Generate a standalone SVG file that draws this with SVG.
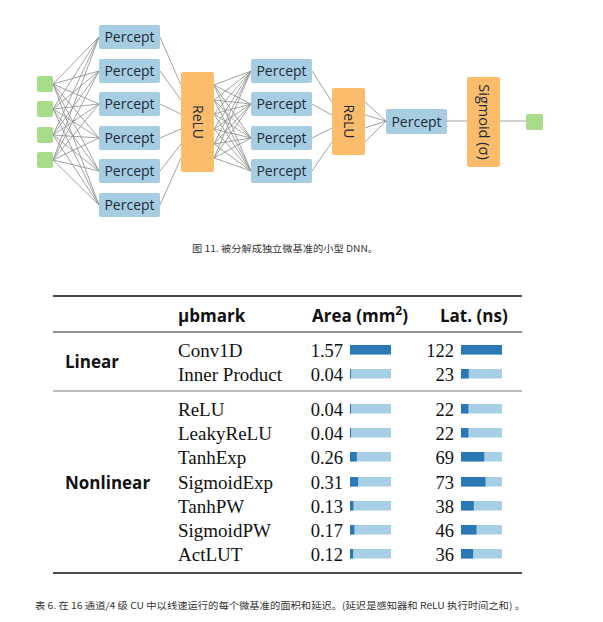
<svg xmlns="http://www.w3.org/2000/svg" width="603" height="622" viewBox="0 0 603 622">
<style>
.in{fill:#a6dc8a}
.pc rect{fill:#a7cde2}
.pc text,.act text{font-family:"Open Sans","Noto Sans",sans-serif;font-size:14px;fill:#1b2a38;text-anchor:middle}
.act rect{fill:#fbbd6c}
.conn line{stroke:#8c8c8c;stroke-width:0.8}
.cap{font-family:"Noto Sans CJK SC","Noto Sans",sans-serif;font-size:9.5px;fill:#333}
.ser{font-family:"Liberation Serif","DejaVu Serif",serif;font-size:19px;fill:#111}
.num{font-family:"Liberation Serif","DejaVu Serif",serif;font-size:18.5px;fill:#111;text-anchor:end}
.hd{font-family:"Open Sans","Noto Sans",sans-serif;font-size:17px;font-weight:bold;fill:#111}
.lt{fill:#a6cfe6}
.dk{fill:#2a79b4}
</style>

<g id="connectors" class="conn">
<g id="c-in">
<line x1="53" y1="84" x2="99" y2="37"/><line x1="53" y1="84" x2="99" y2="71"/><line x1="53" y1="84" x2="99" y2="104"/><line x1="53" y1="84" x2="99" y2="138"/><line x1="53" y1="84" x2="99" y2="171"/><line x1="53" y1="84" x2="99" y2="205"/>
<line x1="53" y1="109" x2="99" y2="37"/><line x1="53" y1="109" x2="99" y2="71"/><line x1="53" y1="109" x2="99" y2="104"/><line x1="53" y1="109" x2="99" y2="138"/><line x1="53" y1="109" x2="99" y2="171"/><line x1="53" y1="109" x2="99" y2="205"/>
<line x1="53" y1="135" x2="99" y2="37"/><line x1="53" y1="135" x2="99" y2="71"/><line x1="53" y1="135" x2="99" y2="104"/><line x1="53" y1="135" x2="99" y2="138"/><line x1="53" y1="135" x2="99" y2="171"/><line x1="53" y1="135" x2="99" y2="205"/>
<line x1="53" y1="160" x2="99" y2="37"/><line x1="53" y1="160" x2="99" y2="71"/><line x1="53" y1="160" x2="99" y2="104"/><line x1="53" y1="160" x2="99" y2="138"/><line x1="53" y1="160" x2="99" y2="171"/><line x1="53" y1="160" x2="99" y2="205"/>
</g>
<line x1="160" y1="37" x2="181" y2="85"/><line x1="160" y1="71" x2="181" y2="100"/><line x1="160" y1="104" x2="181" y2="114"/><line x1="160" y1="138" x2="181" y2="129"/><line x1="160" y1="171" x2="181" y2="144"/><line x1="160" y1="205" x2="181" y2="158"/>
<line x1="214" y1="85" x2="251" y2="71"/><line x1="214" y1="85" x2="251" y2="104"/><line x1="214" y1="85" x2="251" y2="138"/><line x1="214" y1="85" x2="251" y2="171"/>
<line x1="214" y1="100" x2="251" y2="71"/><line x1="214" y1="100" x2="251" y2="104"/><line x1="214" y1="100" x2="251" y2="138"/><line x1="214" y1="100" x2="251" y2="171"/>
<line x1="214" y1="114" x2="251" y2="71"/><line x1="214" y1="114" x2="251" y2="104"/><line x1="214" y1="114" x2="251" y2="138"/><line x1="214" y1="114" x2="251" y2="171"/>
<line x1="214" y1="129" x2="251" y2="71"/><line x1="214" y1="129" x2="251" y2="104"/><line x1="214" y1="129" x2="251" y2="138"/><line x1="214" y1="129" x2="251" y2="171"/>
<line x1="214" y1="144" x2="251" y2="71"/><line x1="214" y1="144" x2="251" y2="104"/><line x1="214" y1="144" x2="251" y2="138"/><line x1="214" y1="144" x2="251" y2="171"/>
<line x1="214" y1="158" x2="251" y2="71"/><line x1="214" y1="158" x2="251" y2="104"/><line x1="214" y1="158" x2="251" y2="138"/><line x1="214" y1="158" x2="251" y2="171"/>
<line x1="312" y1="71" x2="332" y2="102"/><line x1="312" y1="104" x2="332" y2="115"/><line x1="312" y1="138" x2="332" y2="128"/><line x1="312" y1="171" x2="332" y2="142"/>
<line x1="365" y1="102" x2="386" y2="121"/><line x1="365" y1="115" x2="386" y2="121"/><line x1="365" y1="128" x2="386" y2="121"/><line x1="365" y1="142" x2="386" y2="121"/>
<line x1="447" y1="121" x2="467" y2="121"/>
<line x1="500" y1="121" x2="526" y2="121"/>
</g>

<g id="in1"><rect class="in" x="37" y="76" width="16" height="16" rx="2"/></g>
<g id="in2"><rect class="in" x="37" y="101" width="16" height="16" rx="2"/></g>
<g id="in3"><rect class="in" x="37" y="127" width="16" height="16" rx="2"/></g>
<g id="in4"><rect class="in" x="37" y="152" width="16" height="16" rx="2"/></g>

<g id="p1a" class="pc"><rect x="99" y="25" width="61" height="24" rx="2"/><text x="129.5" y="42">Percept</text></g>
<g id="p1b" class="pc"><rect x="99" y="59" width="61" height="24" rx="2"/><text x="129.5" y="76">Percept</text></g>
<g id="p1c" class="pc"><rect x="99" y="92" width="61" height="24" rx="2"/><text x="129.5" y="109">Percept</text></g>
<g id="p1d" class="pc"><rect x="99" y="126" width="61" height="24" rx="2"/><text x="129.5" y="143">Percept</text></g>
<g id="p1e" class="pc"><rect x="99" y="159" width="61" height="24" rx="2"/><text x="129.5" y="176">Percept</text></g>
<g id="p1f" class="pc"><rect x="99" y="193" width="61" height="24" rx="2"/><text x="129.5" y="210">Percept</text></g>

<g id="relu1" class="act"><rect x="181" y="72" width="33" height="100" rx="2"/><text transform="translate(192.5,122) rotate(90)">ReLU</text></g>

<g id="p2a" class="pc"><rect x="251" y="59" width="61" height="24" rx="2"/><text x="281.5" y="76">Percept</text></g>
<g id="p2b" class="pc"><rect x="251" y="92" width="61" height="24" rx="2"/><text x="281.5" y="109">Percept</text></g>
<g id="p2c" class="pc"><rect x="251" y="126" width="61" height="24" rx="2"/><text x="281.5" y="143">Percept</text></g>
<g id="p2d" class="pc"><rect x="251" y="159" width="61" height="24" rx="2"/><text x="281.5" y="176">Percept</text></g>

<g id="relu2" class="act"><rect x="332" y="88" width="33" height="67" rx="2"/><text transform="translate(343.5,121.5) rotate(90)">ReLU</text></g>

<g id="p3" class="pc"><rect x="386" y="109" width="61" height="25" rx="2"/><text x="416.5" y="126.5">Percept</text></g>

<g id="sigmoid" class="act"><rect x="467" y="77" width="33" height="90" rx="2"/><text transform="translate(478.5,122) rotate(90)" style="font-size:14.5px">Sigmoid (σ)</text></g>

<g id="out"><rect class="in" x="526" y="114" width="17" height="16" rx="2"/></g>

<text class="cap" x="192" y="252" textLength="186" lengthAdjust="spacingAndGlyphs">图 11. 被分解成独立微基准的小型 DNN。</text>

<g id="table">
<line x1="53" y1="296" x2="522" y2="296" stroke="#111" stroke-width="1.6"/>
<line x1="53" y1="332" x2="522" y2="332" stroke="#222" stroke-width="1"/>
<line x1="53" y1="391" x2="522" y2="391" stroke="#777" stroke-width="1"/>
<line x1="53" y1="573" x2="522" y2="573" stroke="#111" stroke-width="1.6"/>

<text class="hd" x="178" y="322">μbmark</text>
<text class="hd" x="312" y="322">Area (mm<tspan dy="-7" font-size="12">2</tspan><tspan dy="7">)</tspan></text>
<text class="hd" x="440" y="322">Lat. (ns)</text>

<text class="hd" x="65" y="368">Linear</text>
<text class="hd" x="65" y="489">Nonlinear</text>

<text class="ser" x="178" y="357">Conv1D</text>
<text class="ser" x="178" y="381">Inner Product</text>
<text class="ser" x="178" y="416">ReLU</text>
<text class="ser" x="178" y="440">LeakyReLU</text>
<text class="ser" x="178" y="464">TanhExp</text>
<text class="ser" x="178" y="489">SigmoidExp</text>
<text class="ser" x="178" y="513">TanhPW</text>
<text class="ser" x="178" y="537">SigmoidPW</text>
<text class="ser" x="178" y="561">ActLUT</text>

<text class="num" x="343" y="357">1.57</text>
<text class="num" x="343" y="381">0.04</text>
<text class="num" x="343" y="416">0.04</text>
<text class="num" x="343" y="440">0.04</text>
<text class="num" x="343" y="464">0.26</text>
<text class="num" x="343" y="489">0.31</text>
<text class="num" x="343" y="513">0.13</text>
<text class="num" x="343" y="537">0.17</text>
<text class="num" x="343" y="561">0.12</text>

<text class="num" x="454" y="357">122</text>
<text class="num" x="454" y="381">23</text>
<text class="num" x="454" y="416">22</text>
<text class="num" x="454" y="440">22</text>
<text class="num" x="454" y="464">69</text>
<text class="num" x="454" y="489">73</text>
<text class="num" x="454" y="513">38</text>
<text class="num" x="454" y="537">46</text>
<text class="num" x="454" y="561">36</text>

<g id="area-bars">
<rect class="lt" x="350" y="345" width="41" height="9.5"/><rect class="dk" x="350" y="345" width="41" height="9.5"/>
<rect class="lt" x="350" y="369" width="41" height="9.5"/><rect class="dk" x="350" y="369" width="1" height="9.5"/>
<rect class="lt" x="350" y="404" width="41" height="9.5"/><rect class="dk" x="350" y="404" width="1" height="9.5"/>
<rect class="lt" x="350" y="428" width="41" height="9.5"/><rect class="dk" x="350" y="428" width="1" height="9.5"/>
<rect class="lt" x="350" y="452" width="41" height="9.5"/><rect class="dk" x="350" y="452" width="6.8" height="9.5"/>
<rect class="lt" x="350" y="477" width="41" height="9.5"/><rect class="dk" x="350" y="477" width="8.1" height="9.5"/>
<rect class="lt" x="350" y="501" width="41" height="9.5"/><rect class="dk" x="350" y="501" width="3.4" height="9.5"/>
<rect class="lt" x="350" y="525" width="41" height="9.5"/><rect class="dk" x="350" y="525" width="4.4" height="9.5"/>
<rect class="lt" x="350" y="549" width="41" height="9.5"/><rect class="dk" x="350" y="549" width="3.1" height="9.5"/>
</g>
<g id="lat-bars">
<rect class="lt" x="461" y="345" width="41" height="9.5"/><rect class="dk" x="461" y="345" width="41" height="9.5"/>
<rect class="lt" x="461" y="369" width="41" height="9.5"/><rect class="dk" x="461" y="369" width="7.7" height="9.5"/>
<rect class="lt" x="461" y="404" width="41" height="9.5"/><rect class="dk" x="461" y="404" width="7.4" height="9.5"/>
<rect class="lt" x="461" y="428" width="41" height="9.5"/><rect class="dk" x="461" y="428" width="7.4" height="9.5"/>
<rect class="lt" x="461" y="452" width="41" height="9.5"/><rect class="dk" x="461" y="452" width="23.2" height="9.5"/>
<rect class="lt" x="461" y="477" width="41" height="9.5"/><rect class="dk" x="461" y="477" width="24.5" height="9.5"/>
<rect class="lt" x="461" y="501" width="41" height="9.5"/><rect class="dk" x="461" y="501" width="12.8" height="9.5"/>
<rect class="lt" x="461" y="525" width="41" height="9.5"/><rect class="dk" x="461" y="525" width="15.5" height="9.5"/>
<rect class="lt" x="461" y="549" width="41" height="9.5"/><rect class="dk" x="461" y="549" width="12.1" height="9.5"/>
</g>
</g>

<text class="cap" x="35" y="609" textLength="490" lengthAdjust="spacingAndGlyphs">表 6. 在 16 通道/4 级 CU 中以线速运行的每个微基准的面积和延迟。(延迟是感知器和 ReLU 执行时间之和) 。</text>
</svg>
